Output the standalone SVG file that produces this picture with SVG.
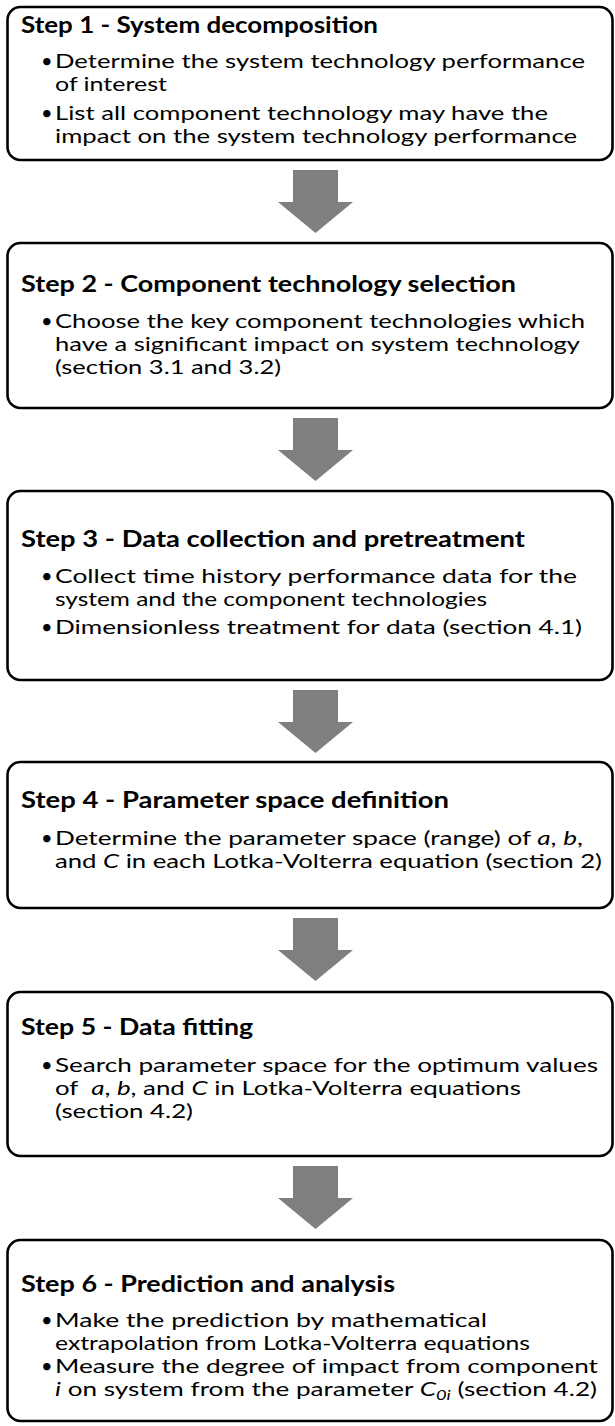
<svg xmlns="http://www.w3.org/2000/svg" width="615" height="1426" viewBox="0 0 615 1426">
<style>
.box{fill:#fff;stroke:#000;stroke-width:2.6}
.arrow{fill:#7f7f7f;stroke:none}
.t{font-family:Lato,"Liberation Sans",sans-serif;font-weight:bold;font-size:22px;fill:#000}
.b{font-family:Lato,"Liberation Sans",sans-serif;font-size:20px;fill:#000}
.i{font-style:italic}
</style>
<rect width="615" height="1426" fill="#fff"/>
<g id="connectors">
<path class="arrow" d="M293,170 H338 V202 H353 L315.5,233 L278,202 H293 Z"/>
<path class="arrow" d="M293,418 H338 V450 H353 L315.5,481 L278,450 H293 Z"/>
<path class="arrow" d="M293,690 H338 V722 H353 L315.5,753 L278,722 H293 Z"/>
<path class="arrow" d="M293,918 H338 V950 H353 L315.5,981 L278,950 H293 Z"/>
<path class="arrow" d="M293,1166 H338 V1198 H353 L315.5,1229 L278,1198 H293 Z"/>
</g>
<g id="step1">
<rect class="box" x="7.5" y="7" width="605" height="153" rx="13"/>
<text class="t" x="21" y="33" textLength="357" lengthAdjust="spacingAndGlyphs">Step 1 - System decomposition</text>
<text class="b" x="41" y="68">•</text>
<text class="b" x="55" y="68" textLength="530" lengthAdjust="spacingAndGlyphs">Determine the system technology performance</text>
<text class="b" x="55" y="91" textLength="112" lengthAdjust="spacingAndGlyphs">of interest</text>
<text class="b" x="41" y="120">•</text>
<text class="b" x="55" y="120" textLength="493" lengthAdjust="spacingAndGlyphs">List all component technology may have the</text>
<text class="b" x="55" y="143" textLength="522" lengthAdjust="spacingAndGlyphs">impact on the system technology performance</text>
</g>
<g id="step2">
<rect class="box" x="7.5" y="243" width="605" height="165" rx="13"/>
<text class="t" x="21" y="292" textLength="495" lengthAdjust="spacingAndGlyphs">Step 2 - Component technology selection</text>
<text class="b" x="41" y="328">•</text>
<text class="b" x="55" y="328" textLength="530" lengthAdjust="spacingAndGlyphs">Choose the key component technologies which</text>
<text class="b" x="55" y="351" textLength="525" lengthAdjust="spacingAndGlyphs">have a significant impact on system technology</text>
<text class="b" x="55" y="374" textLength="226" lengthAdjust="spacingAndGlyphs">(section 3.1 and 3.2)</text>
</g>
<g id="step3">
<rect class="box" x="7.5" y="491" width="605" height="189" rx="13"/>
<text class="t" x="21" y="547" textLength="504" lengthAdjust="spacingAndGlyphs">Step 3 - Data collection and pretreatment</text>
<text class="b" x="41" y="583">•</text>
<text class="b" x="55" y="583" textLength="522" lengthAdjust="spacingAndGlyphs">Collect time history performance data for the</text>
<text class="b" x="55" y="606" textLength="432" lengthAdjust="spacingAndGlyphs">system and the component technologies</text>
<text class="b" x="41" y="634">•</text>
<text class="b" x="55" y="634" textLength="527" lengthAdjust="spacingAndGlyphs">Dimensionless treatment for data (section 4.1)</text>
</g>
<g id="step4">
<rect class="box" x="7.5" y="762" width="605" height="146" rx="13"/>
<text class="t" x="21" y="808" textLength="428" lengthAdjust="spacingAndGlyphs">Step 4 - Parameter space definition</text>
<text class="b" x="41" y="845">•</text>
<text class="b" x="55" y="845" textLength="528" lengthAdjust="spacingAndGlyphs">Determine the parameter space (range) of <tspan class="i">a</tspan>, <tspan class="i">b</tspan>,</text>
<text class="b" x="55" y="868" textLength="547" lengthAdjust="spacingAndGlyphs">and <tspan class="i">C</tspan> in each Lotka-Volterra equation (section 2)</text>
</g>
<g id="step5">
<rect class="box" x="7.5" y="992" width="605" height="164" rx="13"/>
<text class="t" x="21" y="1035" textLength="232" lengthAdjust="spacingAndGlyphs">Step 5 - Data fitting</text>
<text class="b" x="41" y="1072">•</text>
<text class="b" x="55" y="1072" textLength="543" lengthAdjust="spacingAndGlyphs">Search parameter space for the optimum values</text>
<text class="b" x="55" y="1095" textLength="466" lengthAdjust="spacingAndGlyphs">of&#160; <tspan class="i">a</tspan>, <tspan class="i">b</tspan>, and <tspan class="i">C</tspan> in Lotka-Volterra equations</text>
<text class="b" x="55" y="1118" textLength="138" lengthAdjust="spacingAndGlyphs">(section 4.2)</text>
</g>
<g id="step6">
<rect class="box" x="7.5" y="1240" width="605" height="181" rx="13"/>
<text class="t" x="21" y="1292" textLength="374" lengthAdjust="spacingAndGlyphs">Step 6 - Prediction and analysis</text>
<text class="b" x="41" y="1327">•</text>
<text class="b" x="55" y="1327" textLength="432" lengthAdjust="spacingAndGlyphs">Make the prediction by mathematical</text>
<text class="b" x="55" y="1350" textLength="475" lengthAdjust="spacingAndGlyphs">extrapolation from Lotka-Volterra equations</text>
<text class="b" x="41" y="1373">•</text>
<text class="b" x="55" y="1373" textLength="543" lengthAdjust="spacingAndGlyphs">Measure the degree of impact from component</text>
<text class="b" x="55" y="1396" textLength="542" lengthAdjust="spacingAndGlyphs"><tspan class="i">i</tspan> on system from the parameter <tspan class="i">C</tspan><tspan class="i" font-size="14" dy="4">0i</tspan><tspan dy="-4"> (section 4.2)</tspan></text>
</g>
</svg>
